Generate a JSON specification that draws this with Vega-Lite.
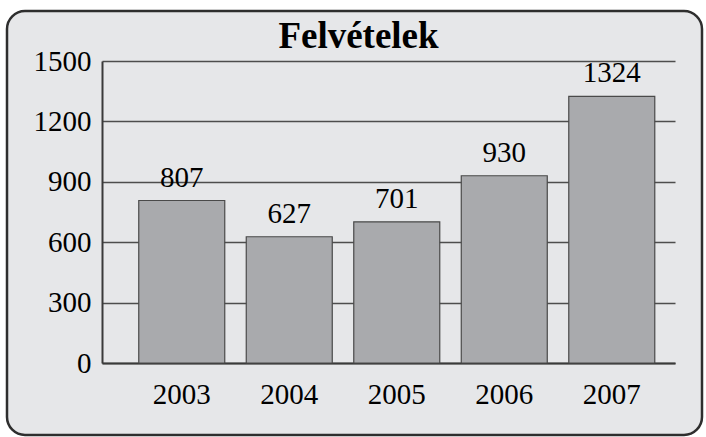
{
  "$schema": "https://vega.github.io/schema/vega-lite/v6.json",
  "autosize": "none",
  "width": 695,
  "height": 424,
  "padding": {"left": 7, "top": 11, "right": 4, "bottom": 2},
  "background": "#ffffff",
  "title": {
    "text": "Felvételek",
    "font": "Liberation Serif",
    "fontSize": 37,
    "fontWeight": "bold",
    "color": "#000000",
    "anchor": "middle",
    "baseline": "alphabetic",
    "offset": -74,
    "dx": 4
  },
  "config": {
    "view": {"fill": "#e6e7e9", "stroke": "#2e2e2e", "strokeWidth": 2.5, "cornerRadius": 18},
    "axis": {
      "labelFont": "Liberation Serif",
      "labelFontSize": 29,
      "labelColor": "#000000",
      "domainColor": "#3a3a3a",
      "domainWidth": 2,
      "gridColor": "#4d4d4d",
      "gridWidth": 1.5,
      "ticks": false,
      "tickSize": 0,
      "title": null
    }
  },
  "data": {
    "values": [
      {"year": "2003", "value": 807},
      {"year": "2004", "value": 627},
      {"year": "2005", "value": 701},
      {"year": "2006", "value": 930},
      {"year": "2007", "value": 1324}
    ]
  },
  "encoding": {
    "x": {
      "field": "year",
      "type": "ordinal",
      "scale": {"range": [95, 668], "paddingInner": 0.2, "paddingOuter": 0.265, "align": 0.645},
      "axis": {"orient": "bottom", "offset": -72, "labelAngle": 0, "labelBaseline": "alphabetic", "labelPadding": 40, "grid": false}
    },
    "y": {
      "field": "value",
      "type": "quantitative",
      "scale": {"domain": [0, 1500], "range": [352, 50], "nice": false, "zero": true},
      "axis": {"orient": "left", "offset": -95, "values": [0, 300, 600, 900, 1200, 1500], "format": "d", "labelPadding": 11, "labelBaseline": "middle", "grid": true}
    }
  },
  "layer": [
    {"mark": {"type": "bar", "fill": "#a9aaad", "stroke": "#4a4a4a", "strokeWidth": 1.2}},
    {
      "mark": {"type": "text", "font": "Liberation Serif", "fontSize": 29, "color": "#000000", "baseline": "alphabetic", "dy": -14},
      "encoding": {"text": {"field": "value", "type": "quantitative", "format": "d"}}
    }
  ]
}
